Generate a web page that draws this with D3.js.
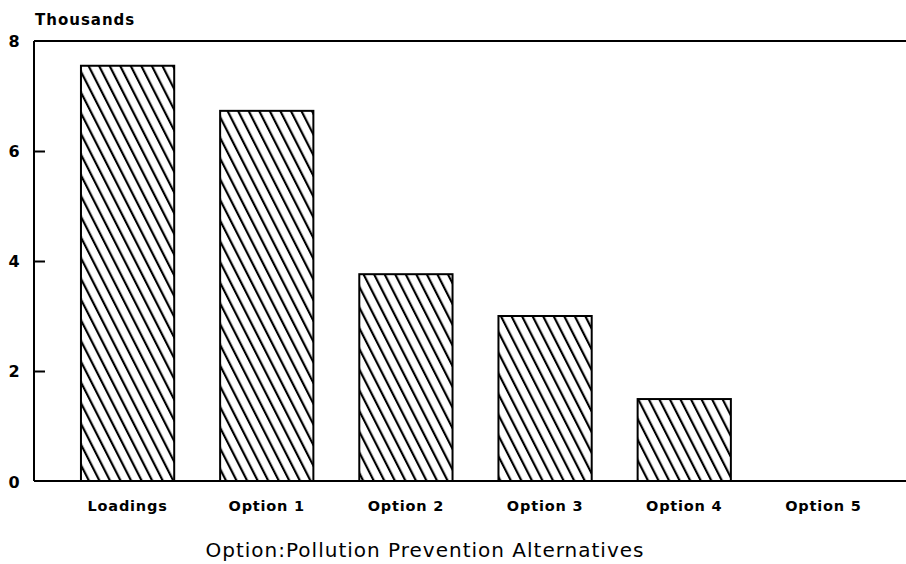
<!DOCTYPE html>
<html>
<head>
<meta charset="utf-8">
<script src="https://cdn.jsdelivr.net/npm/d3@7"></script>
<style>
  html, body { margin: 0; padding: 0; background: #fff; }
  svg { display: block; }
  text { font-family: "DejaVu Sans", sans-serif; fill: #000; }
</style>
</head>
<body>
<svg id="chart" width="906" height="564"></svg>
<script>
const categories = ["Loadings", "Option 1", "Option 2", "Option 3", "Option 4", "Option 5"];
const values = [7.55, 6.73, 3.76, 3.0, 1.49, 0];
const yTicks = [0, 2, 4, 6, 8];
const yUnitLabel = "Thousands";
const xTitle = "Option:Pollution Prevention Alternatives";

(function () {
const svg = d3.select("#chart");
const W = 906;
const plotLeft = 34, plotTop = 41, plotBottom = 481;

const x = d3.scaleBand().domain(categories).range([58, 893]).paddingInner(0.33).paddingOuter(0.165);
const y = d3.scaleLinear().domain([0, 8]).range([plotBottom, plotTop]);

const defs = svg.append("defs");
const pat = defs.append("pattern")
  .attr("id", "hatch")
  .attr("patternUnits", "userSpaceOnUse")
  .attr("width", 9.4).attr("height", 20)
  .attr("patternTransform", "rotate(-27)");
pat.append("rect").attr("width", 9.4).attr("height", 20).attr("fill", "#fff");
pat.append("line").attr("x1", 2).attr("y1", 0).attr("x2", 2).attr("y2", 20)
  .attr("stroke", "#000").attr("stroke-width", 2.2);

// bars
svg.append("g").selectAll("rect")
  .data(categories.map((c, i) => ({c, v: values[i]})).filter(d => d.v > 0))
  .join("rect")
  .attr("x", d => x(d.c))
  .attr("y", d => y(d.v))
  .attr("width", x.bandwidth())
  .attr("height", d => y(0) - y(d.v))
  .attr("fill", "url(#hatch)")
  .attr("stroke", "#000")
  .attr("stroke-width", 2);

// frame lines
svg.append("line").attr("x1", plotLeft).attr("x2", W).attr("y1", plotTop).attr("y2", plotTop)
  .attr("stroke", "#000").attr("stroke-width", 2);
svg.append("line").attr("x1", plotLeft).attr("x2", W).attr("y1", plotBottom).attr("y2", plotBottom)
  .attr("stroke", "#000").attr("stroke-width", 2);
svg.append("line").attr("x1", plotLeft).attr("x2", plotLeft).attr("y1", plotTop).attr("y2", plotBottom)
  .attr("stroke", "#000").attr("stroke-width", 2);

// y axis ticks (inward) and labels
const yAxis = d3.axisRight(y).tickValues(yTicks.filter(t => t > 0 && t < 8)).tickSize(11).tickFormat("");
const gy = svg.append("g").attr("transform", `translate(${plotLeft},0)`).call(yAxis);
gy.select(".domain").remove();
gy.selectAll(".tick line").attr("stroke", "#000").attr("stroke-width", 2);

svg.append("g").selectAll("text").data(yTicks).join("text")
  .attr("x", 14).attr("y", d => y(d) + (d === 0 ? 2 : 1))
  .attr("text-anchor", "middle").attr("dominant-baseline", "middle")
  .attr("font-size", 16).attr("font-weight", "bold")
  .text(d => d);

svg.append("text").attr("x", 35).attr("y", 25)
  .attr("font-size", 15).attr("font-weight", "bold")
  .attr("letter-spacing", 1)
  .text(yUnitLabel);

// x category labels
svg.append("g").selectAll("text").data(categories).join("text")
  .attr("x", d => x(d) + x.bandwidth() / 2)
  .attr("y", 511)
  .attr("text-anchor", "middle")
  .attr("font-size", 14.5).attr("font-weight", "bold")
  .attr("letter-spacing", 0.8)
  .text(d => d);

svg.append("text").attr("x", 425).attr("y", 557)
  .attr("text-anchor", "middle")
  .attr("font-size", 20)
  .attr("letter-spacing", 1)
  .text(xTitle);
})();
</script>
</body>
</html>
